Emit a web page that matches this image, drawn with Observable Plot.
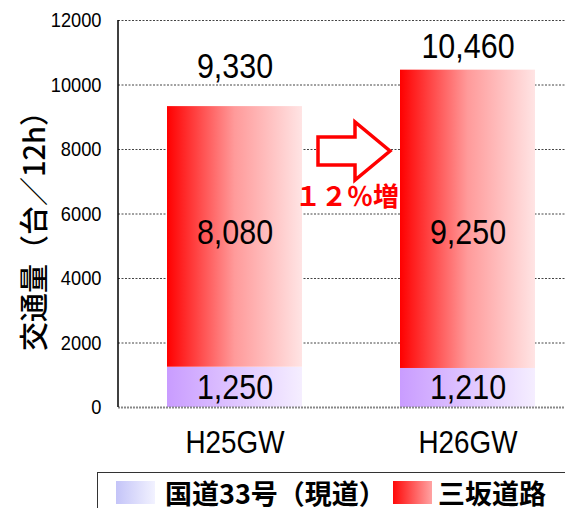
<!DOCTYPE html>
<html><head><meta charset="utf-8">
<script src="https://cdn.jsdelivr.net/npm/d3@7"></script>
<script src="https://cdn.jsdelivr.net/npm/@observablehq/plot@0.6"></script>
<style>
body{margin:0;background:#fff;overflow:hidden;width:565px;height:508px}
#wrap{position:relative;width:565px;height:508px;overflow:hidden}
#legend{position:absolute;left:97px;top:472px;width:520px;height:60px;border-top:1.5px solid #333;border-left:1.5px solid #333;font-family:'Noto Sans CJK JP',sans-serif;font-weight:bold;font-size:27px;color:#000}
.sw{position:absolute;top:8px;width:39px;height:23px}
.lt{position:absolute;top:6px;line-height:27px;white-space:nowrap}
</style></head>
<body><div id="wrap"><div id="chart"></div><div id="legend"></div></div>
<script>
const categories = ["H25GW", "H26GW"];
const route33 = [1250, 1210];
const misaka = [8080, 9250];
const totals = [9330, 10460];
const yTicks = [0, 2000, 4000, 6000, 8000, 10000, 12000];
const seriesNames = ["国道33号（現道）", "三坂道路"];
const yLabel = "交通量（台／12h）";
const increaseLabel = "１２％増";

const rows = categories.flatMap((c, i) => [
  {cat: c, series: seriesNames[0], y1: 0, y2: route33[i], value: route33[i]},
  {cat: c, series: seriesNames[1], y1: route33[i], y2: route33[i] + misaka[i], value: misaka[i]}
]);
const totalRows = categories.map((c, i) => ({cat: c, total: totals[i]}));
const fmt = d3.format(",");
const SANS = "'Liberation Sans',Arial,sans-serif";
const lower = rows.filter(d => d.series === seriesNames[0]);
const upper = rows.filter(d => d.series === seriesNames[1]);
const VAL = {fontSize: 35, fill: "black", fontFamily: SANS};

const plot = Plot.plot({
  width: 565, height: 470, marginLeft: 118, marginRight: 0, marginTop: 20, marginBottom: 63,
  style: {fontFamily: SANS, background: "white", color: "black", overflow: "visible"},
  x: {domain: categories, range: [118, 585], paddingInner: 0.42, paddingOuter: 0.21, label: null},
  y: {domain: [0, 12000], label: null},
  marks: [
    Plot.ruleY(yTicks.filter(d => d > 0), {stroke: "#444", strokeDasharray: "2,1.5", strokeWidth: 1}),
    Plot.barY(lower, {x: "cat", y1: "y1", y2: "y2", fill: "url(#gradPurple)"}),
    Plot.barY(upper, {x: "cat", y1: "y1", y2: "y2", fill: "url(#gradRed)"}),
    Plot.ruleY([0], {stroke: "#888", strokeWidth: 2, strokeDasharray: "2,1"}),
    Plot.axisY({ticks: yTicks, tickSize: 0, tickPadding: 17, fontSize: 21, tickFormat: d => String(d), label: null}),
    Plot.axisX({tickSize: 0, tickPadding: 23, fontSize: 32, label: null}),
    Plot.text(lower, {x: "cat", y: d => (d.y1 + d.y2) / 2, text: d => fmt(d.value), ...VAL}),
    Plot.text(upper.filter(d => d.cat === categories[0]), {x: "cat", y: d => (d.y1 + d.y2) / 2, text: d => fmt(d.value), ...VAL, dy: -4}),
    Plot.text(upper.filter(d => d.cat === categories[1]), {x: "cat", y: d => (d.y1 + d.y2) / 2, text: d => fmt(d.value), ...VAL, dy: 13}),
    Plot.text(totalRows.filter(d => d.cat === categories[0]), {x: "cat", y: "total", text: d => fmt(d.total), ...VAL, dy: -40}),
    Plot.text(totalRows.filter(d => d.cat === categories[1]), {x: "cat", y: "total", text: d => fmt(d.total), ...VAL, dy: -23}),
    Plot.text([yLabel], {frameAnchor: "left", textAnchor: "middle", rotate: -90, dx: -83, dy: 10, fontSize: 29, fontFamily: "'Noto Sans CJK JP',sans-serif", fontWeight: 500, fill: "black"})
  ]
});

const svg = d3.select(plot);
// horizontally condense the numeric texts (narrow gothic look)
svg.selectAll("text").each(function() {
  const t = this.getAttribute("transform");
  if (t && t.includes("rotate")) return;
  if (t) this.setAttribute("transform", t + " scale(0.87,1)");
  else {
    const x = +(this.getAttribute("x") || 0), y = +(this.getAttribute("y") || 0);
    this.removeAttribute("x"); this.removeAttribute("y");
    this.setAttribute("transform", `translate(${x},${y}) scale(0.87,1)`);
  }
});

const defs = svg.insert("defs", ":first-child");
function grad(id, stops) {
  const g = defs.append("linearGradient").attr("id", id).attr("x1", 0).attr("x2", 1).attr("y1", 0).attr("y2", 0);
  stops.forEach(([o, c]) => g.append("stop").attr("offset", o).attr("stop-color", c));
}
grad("gradRed", [[0, "#ff0000"], [0.5, "#ff9a9a"], [1, "#ffe4e4"]]);
grad("gradPurple", [[0, "#c99cff"], [1, "#f5eeff"]]);

const xs = plot.scale("x"), ys = plot.scale("y");
const bw = xs.bandwidth;
svg.append("line").attr("x1", 118).attr("x2", 118)
  .attr("y1", ys.apply(0)).attr("y2", ys.apply(12000)).attr("stroke", "#000").attr("stroke-width", 1.5);
const gapMid = (xs.apply(categories[0]) + bw + xs.apply(categories[1])) / 2 + 3;
const ay = ys.apply(8000) + 2;
const arrow = [[-36, -14], [1, -14], [1, -29], [36, 0], [1, 29], [1, 14], [-36, 14]];
svg.append("path")
  .attr("d", "M" + arrow.map(([dx, dy]) => [gapMid + dx, ay + dy].join(",")).join("L") + "Z")
  .attr("fill", "white").attr("stroke", "#ff0000").attr("stroke-width", 3.5).attr("stroke-linejoin", "miter");
svg.append("text").attr("x", gapMid - 7).attr("y", ys.apply(6500)).attr("dy", "0.35em")
  .attr("text-anchor", "middle").attr("font-family", "'Noto Sans CJK JP',sans-serif")
  .attr("font-weight", "bold").attr("font-size", 26).attr("fill", "#ff0000").text(increaseLabel);

document.getElementById("chart").appendChild(plot);

const legend = document.getElementById("legend");
const legendItems = [
  {name: seriesNames[0], sw: "linear-gradient(to right,#c4c4f8,#f2f2ff)", swx: 18, tx: 67},
  {name: seriesNames[1], sw: "linear-gradient(to right,#ff0a0a,#ffa3a3)", swx: 295, tx: 340}
];
legendItems.forEach(it => {
  const s = document.createElement("div"); s.className = "sw"; s.style.left = it.swx + "px"; s.style.background = it.sw; legend.appendChild(s);
  const t = document.createElement("div"); t.className = "lt"; t.style.left = it.tx + "px"; t.textContent = it.name; legend.appendChild(t);
});
</script></body></html>
